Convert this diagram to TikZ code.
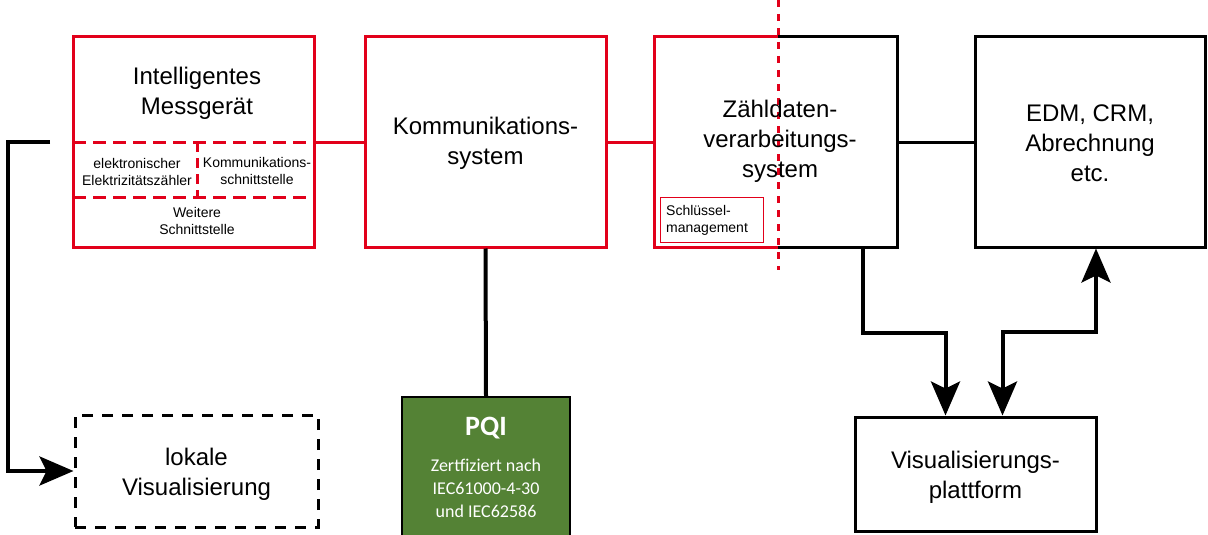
\documentclass[tikz,border=0pt]{standalone}
\usepackage{fontspec}
\setmainfont{Liberation Sans}
\newfontfamily\carl{Carlito}
\usetikzlibrary{arrows.meta}
\definecolor{myred}{RGB}{226,0,26}
\definecolor{pqigreen}{RGB}{84,130,53}
\begin{document}
\begin{tikzpicture}[x=1pt,y=-1pt,
  bigtxt/.style={font=\fontsize{24}{30}\selectfont, align=center, inner sep=0},
  smalltxt/.style={font=\fontsize{14}{17}\selectfont, align=center, inner sep=0},
  redbox/.style={draw=myred, line width=3pt, inner sep=0},
  blackbox/.style={draw=black, line width=3pt, inner sep=0},
  redline/.style={draw=myred, line width=3pt},
  blackline/.style={draw=black, line width=4pt},
  arr/.style={blackline, -{Stealth[length=34pt 0 0,width=29pt 0 0,inset=7pt 0 0]}},
  arrboth/.style={blackline, {Stealth[length=34pt 0 0,width=29pt 0 0,inset=7pt 0 0]}-{Stealth[length=34pt 0 0,width=29pt 0 0,inset=7pt 0 0]}},
  reddash/.style={draw=myred, line width=3pt, dash pattern=on 13pt off 7pt},
]
\useasboundingbox (0,0) rectangle (1208,535);

% Boxes
\node[redbox, minimum width=241pt, minimum height=210pt] (b1) at (194,142) {};
\node[redbox, minimum width=241pt, minimum height=210pt] (b2) at (485.5,142) {};
\node[minimum width=242pt, minimum height=210pt, inner sep=0] (b3) at (776,142) {};
\node[blackbox, minimum width=230pt, minimum height=210pt] (b4) at (1090,142) {};
\node[blackbox, minimum width=241pt, minimum height=114pt] (b5) at (975.5,474) {};
\node[draw=black, line width=3pt, dash pattern=on 11pt off 9pt, minimum width=243pt, minimum height=112pt] (lv) at (196.5,471) {};
\node[draw=black, line width=2pt, fill=pqigreen, minimum width=168pt, minimum height=142pt] (pqi) at (486,468) {};

% Box 3 split border
\coordinate (split) at (778,0);
\draw[redline] (split |- b3.north) -| (b3.south west) -- (split |- b3.south);
\draw[draw=black, line width=3pt] (split |- b3.north) -| (b3.south east) -- (split |- b3.south);

% Internal dashed lines of box 1
\draw[reddash] (73,142) -- (315,142);
\draw[reddash] (73,197) -- (315,197);
\draw[draw=myred, line width=3pt, dash pattern=on 10pt off 6pt] (197,142) -- (197,197);

% Red dashed separator
\draw[draw=myred, line width=3pt, dash pattern=on 7pt off 7pt] (778,0) -- (778,270);

% Schluessel box
\node[draw=myred, line width=1pt, minimum width=103pt, minimum height=45pt, inner sep=0] (sk) at (711.5,219.5) {};
\node[smalltxt, align=left, anchor=west] (sktxt) at (666,220) {Schlüssel-\\management};

% Texts
\node[bigtxt] (t1) at (197,93) {Intelligentes\\Messgerät};
\node[smalltxt] (t1a) at (137,172) {elektronischer\\Elektrizitätszähler};
\node[smalltxt] (t1b) at (257,171) {Kommunikations-\\schnittstelle};
\node[smalltxt] (t1c) at (197,221) {Weitere\\Schnittstelle};
\node[bigtxt] (t2) at (485.5,143) {Kommunikations-\\system};
\node[bigtxt] (t3) at (780,141) {Zähldaten-\\verarbeitungs-\\system};
\node[bigtxt] (t4) at (1090,143) {EDM, CRM,\\Abrechnung\\etc.};
\node[bigtxt] (t5) at (975.5,477) {Visualisierungs-\\plattform};
\node[bigtxt] (t6) at (196.5,474) {lokale\\Visualisierung};
\node[font=\carl\bfseries\fontsize{28}{30}\selectfont, text=white, inner sep=0] (pqit) at (486,428) {PQI};
\node[font=\carl\fontsize{18}{23}\selectfont, text=white, align=center, inner sep=0] (pqis) at (486,488) {Zertfiziert nach\\IEC61000-4-30\\und IEC62586};

% Connectors
\draw[redline] (b1.east) -- (b2.west);
\draw[redline] (b2.east) -- (b3.west);
\draw[draw=black, line width=3pt] (b3.east) -- (b4.west);
\draw[blackline] (b2.south) -- (pqi.north);
\coordinate (ls) at (50,142);
\coordinate (lc) at (8,142);
\draw[arr] (ls) -- (lc) |- (lv.west);
\draw[arr] ([xshift=87pt]b3.south) -- ++(0,86) -| ([xshift=-30pt]b5.north);
\draw[arrboth] ([xshift=27pt]b5.north) -- ++(0,-84) -| ([xshift=6pt]b4.south);
\end{tikzpicture}
\end{document}
